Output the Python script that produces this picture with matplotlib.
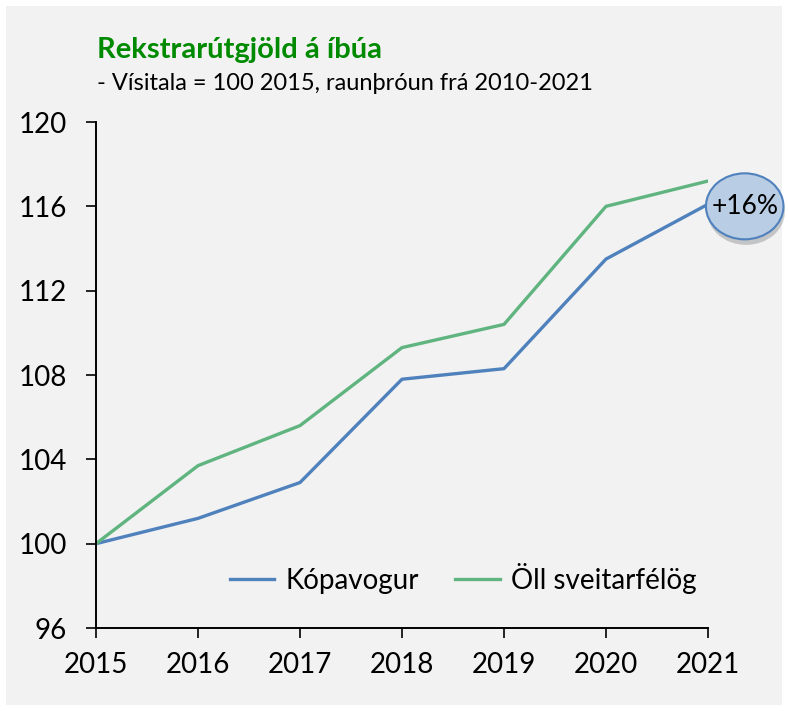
import matplotlib.pyplot as plt
from matplotlib.patches import Ellipse, Rectangle
import matplotlib.patheffects as pe

years = [2015, 2016, 2017, 2018, 2019, 2020, 2021]
kopavogur = [100.0, 101.2, 102.9, 107.8, 108.3, 113.5, 116.1]
oll = [100.0, 103.7, 105.6, 109.3, 110.4, 116.0, 117.2]
yticks = [96, 100, 104, 108, 112, 116, 120]

plt.rcParams['font.family'] = ['Lato', 'DejaVu Sans']

fig = plt.figure(figsize=(7.88, 7.11), dpi=100)
fig.patch.set_facecolor('white')
# grey chart area
fig.patches.append(Rectangle((6/788, 6/711), 776/788, 699/711, transform=fig.transFigure,
                             facecolor='#f2f2f2', edgecolor='none', zorder=-10))

ax = fig.add_axes([96/788, 1 - 628/711, 612/788, 506/711])
ax.patch.set_alpha(0)

ax.plot(years, kopavogur, color='#4f81bd', lw=2.4, label='Kópavogur')
ax.plot(years, oll, color='#5fb47f', lw=2.4, label='Öll sveitarfélög')

ax.set_xlim(2015, 2021)
ax.set_ylim(96, 120)
ax.set_xticks(years)
ax.set_yticks(yticks)
ax.tick_params(labelsize=20, length=7, width=1.2, direction='out')
ax.tick_params(axis='x', pad=10)
ax.tick_params(axis='y', pad=14)
for s in ['top', 'right']:
    ax.spines[s].set_visible(False)
for s in ['left', 'bottom']:
    ax.spines[s].set_linewidth(1.4)

# annotation bubble
ell = Ellipse((2021.36, 116.0), 0.76, 3.13, facecolor='#b9cde5', edgecolor='#4f81bd',
              lw=1.5, clip_on=False, zorder=5,
              path_effects=[pe.SimplePatchShadow(offset=(1, -4), alpha=0.25), pe.Normal()])
ax.add_patch(ell)
ax.text(2021.365, 116.0, '+16%', ha='center', va='center', fontsize=19, zorder=6, clip_on=False)

ax.legend(loc='center', bbox_to_anchor=(463/788, 1 - 578/711), bbox_transform=fig.transFigure,
          frameon=False, fontsize=20, ncol=2, handlelength=1.6, handletextpad=0.4,
          columnspacing=1.3)

fig.text(97/788, 1 - 50/711, 'Rekstrarútgjöld á íbúa', color='#008a00', fontsize=21,
         fontweight='bold', va='center')
fig.text(97/788, 1 - 84/711, '- Vísitala = 100 2015, raunþróun frá 2010-2021', fontsize=17,
         va='center')

fig.savefig('out.png', dpi=100)
